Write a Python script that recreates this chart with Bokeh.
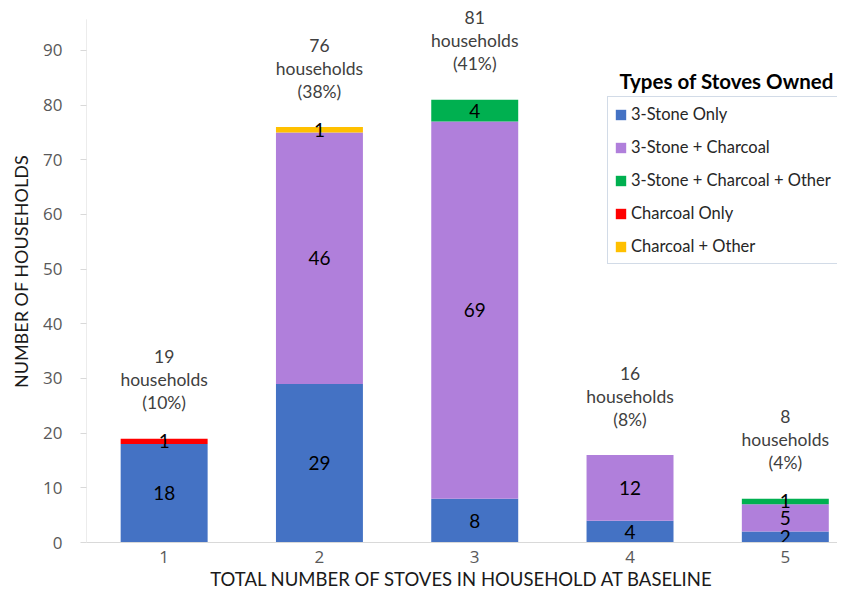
from bokeh.plotting import figure
from bokeh.models import (ColumnDataSource, Range1d, FixedTicker, Legend, LegendItem, Label)
from bokeh.core.properties import value
from bokeh.embed import file_html
from bokeh.resources import INLINE

# ---- data ----
stove_counts = [1, 2, 3, 4, 5]
three_stone_only = [18, 29, 8, 4, 2]
three_stone_charcoal = [0, 46, 69, 12, 5]
three_stone_charcoal_other = [0, 0, 4, 0, 1]
charcoal_only = [1, 0, 0, 0, 0]
charcoal_other = [0, 1, 0, 0, 0]
pct_labels = ["(10%)", "(38%)", "(41%)", "(8%)", "(4%)"]
series_names = ["3-Stone Only", "3-Stone + Charcoal", "3-Stone + Charcoal + Other",
                "Charcoal Only", "Charcoal + Other"]
series_colors = ["#4472C4", "#B07FDB", "#00B050", "#FF0000", "#FFC000"]
y_ticks = [0, 10, 20, 30, 40, 50, 60, 70, 80, 90]

series = [three_stone_only, three_stone_charcoal, three_stone_charcoal_other,
          charcoal_only, charcoal_other]
keys = ["s0", "s1", "s2", "s3", "s4"]
data = {"x": stove_counts}
for k, s in zip(keys, series):
    data[k] = s
src = ColumnDataSource(data)

totals = [sum(v) for v in zip(*series)]

p = figure(width=837, height=593, output_backend="svg", toolbar_location=None,
           x_range=Range1d(0.5, 5.336), y_range=Range1d(0, 99.14),
           min_border_left=86, min_border_right=0, min_border_top=0,
           min_border_bottom=51)
p.outline_line_color = None
p.xgrid.visible = False
p.ygrid.visible = False
p.background_fill_color = "white"
p.border_fill_color = "white"

rends = p.vbar_stack(keys, x="x", width=0.56, source=src, color=series_colors,
                     line_color=None)

# segment labels
seg_x, seg_y, seg_t = [], [], []
for i, xv in enumerate(stove_counts):
    base = 0
    for s in series:
        v = s[i]
        if v > 0:
            seg_x.append(xv)
            seg_y.append(base + v / 2)
            seg_t.append(str(v))
        base += v
p.text(x=seg_x, y=seg_y, text=seg_t, text_align="center", text_baseline="middle",
       text_font=value("Lato"), text_font_size="19px", text_color="#000000")

# total annotations
ann_font = "17.5px"
p.text(x=stove_counts, y=totals, text=pct_labels, y_offset=-36,
       text_align="center", text_baseline="middle",
       text_font=value("Lato"), text_font_size=ann_font, text_color="#404040")
p.text(x=stove_counts, y=totals, text=["households"] * 5, y_offset=-59,
       text_align="center", text_baseline="middle",
       text_font=value("Lato"), text_font_size=ann_font, text_color="#404040")
p.text(x=stove_counts, y=totals, text=[str(t) for t in totals], y_offset=-82,
       text_align="center", text_baseline="middle",
       text_font=value("Lato"), text_font_size=ann_font, text_color="#404040")

# y axis line (shorter than frame)
p.segment(x0=[0.5], y0=[0], x1=[0.5], y1=[95.7], line_color="#D9D9D9", line_width=1)

# axes
p.xaxis.ticker = FixedTicker(ticks=stove_counts)
p.xaxis.axis_label = "TOTAL NUMBER OF STOVES IN HOUSEHOLD AT BASELINE"
p.xaxis.axis_line_color = "#D9D9D9"
p.xaxis.major_tick_line_color = None
p.xaxis.major_tick_in = 0
p.xaxis.major_tick_out = 0
p.xaxis.minor_tick_line_color = None
p.xaxis.minor_tick_out = 0
p.xaxis.major_label_standoff = 8
p.xaxis.axis_label_standoff = 2
p.xaxis.major_label_text_line_height = 1.0
p.xaxis.axis_label_text_line_height = 1.0
p.xaxis.major_label_text_font = "Open Sans"
p.xaxis.major_label_text_font_size = "17px"
p.xaxis.major_label_text_color = "#595959"
p.xaxis.axis_label_text_font = "Lato"
p.xaxis.axis_label_text_font_size = "18.5px"
p.xaxis.axis_label_text_font_style = "normal"
p.xaxis.axis_label_text_color = "#1a1a1a"

p.yaxis.ticker = FixedTicker(ticks=y_ticks)
p.yaxis.axis_label = "NUMBER OF HOUSEHOLDS"
p.yaxis.axis_line_color = None
p.yaxis.major_tick_line_color = "#D9D9D9"
p.yaxis.major_tick_in = 0
p.yaxis.major_tick_out = 6
p.yaxis.minor_tick_line_color = None
p.yaxis.major_label_standoff = 18
p.yaxis.axis_label_standoff = 8
p.yaxis.major_label_text_font = "Open Sans"
p.yaxis.major_label_text_font_size = "17px"
p.yaxis.major_label_text_color = "#595959"
p.yaxis.axis_label_text_font = "Lato"
p.yaxis.axis_label_text_font_size = "18px"
p.yaxis.axis_label_text_font_style = "normal"
p.yaxis.axis_label_text_color = "#1a1a1a"

# legend
items = [LegendItem(label=n, renderers=[r]) for n, r in zip(series_names, rends)]
legend = Legend(items=items, location=(521, 278), orientation="vertical",
                padding=6, spacing=11, label_height=22, glyph_height=13,
                glyph_width=13, label_standoff=4, margin=0,
                label_text_font="Lato", label_text_font_size="16.5px",
                label_text_color="#262626",
                border_line_color="#A6B8D0", border_line_width=1,
                background_fill_color="white", background_fill_alpha=1.0)
p.add_layout(legend)

title = Label(x=3.932, y=84.5, text="Types of Stoves Owned", text_font="Lato",
              text_font_size="20.5px", text_font_style="bold", text_color="#000000",
              text_baseline="middle", text_align="left")
p.add_layout(title)

open("out.html", "w").write(file_html(p, INLINE))
